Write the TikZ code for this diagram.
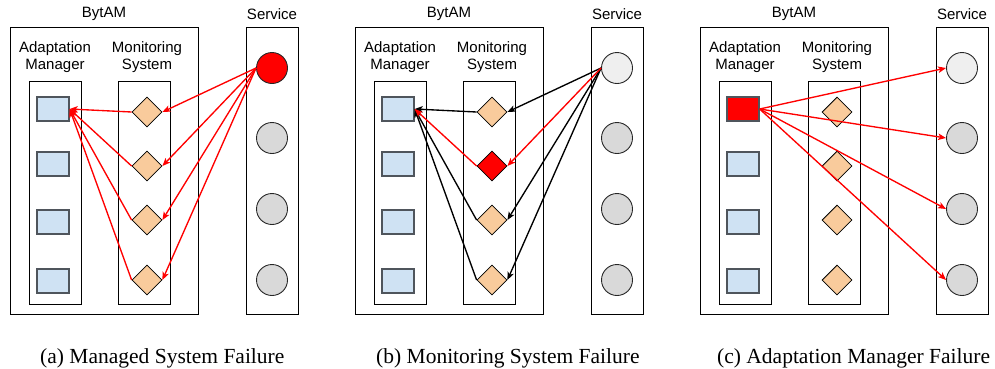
\documentclass[tikz,border=0pt]{standalone}
\usepackage{fontspec}
\setmainfont{Liberation Serif}
\setsansfont{Liberation Sans}
\usetikzlibrary{shapes.geometric,arrows.meta}
\definecolor{sqfill}{HTML}{CFE2F3}
\definecolor{sqdraw}{HTML}{4F555C}
\definecolor{dfill}{HTML}{F9CB9C}
\definecolor{cfill}{HTML}{D9D9D9}
\definecolor{cfilltop}{HTML}{EFEFEF}
\definecolor{redA}{HTML}{FF0000}
\tikzset{
  frame/.style={draw=black, line width=0.8pt},
  lbl/.style={font=\sffamily\fontsize{15}{17}\selectfont, align=center, inner sep=0pt},
  sqbox/.style={draw=sqdraw, line width=1.3pt, minimum width=32pt, minimum height=24pt, inner sep=0pt},
  dia/.style={diamond, draw=black, line width=0.8pt, minimum width=30pt, minimum height=30pt, inner sep=0pt, aspect=1},
  svc/.style={circle, draw=black!85, line width=0.9pt, minimum size=31pt, inner sep=0pt},
  arr/.style={-{Stealth[length=8pt,width=6.5pt,inset=2pt]}, line width=1.35pt},
  captext/.style={font=\fontsize{21.5}{24}\selectfont, inner sep=0pt, anchor=base west}
}
% #1 prefix, #2 offset, #3 fill of service 1, #4 fill of diamond 2, #5 fill of square 1
\newcommand\drawpanel[5]{%
  \begin{scope}[xshift=#2pt]
    \draw[frame] (10,27) rectangle (198,314);
    \draw[frame] (246,27) rectangle (298,314);
    \draw[frame] (29,81) rectangle (81,304);
    \draw[frame] (118,81) rectangle (170,304);
    \node[lbl] (#1byt) at (104,14) {BytAM};
    \node[lbl] (#1svc) at (272,14) {Service};
    \node[lbl] (#1am) at (55,57.5) {Adaptation\\Manager};
    \node[lbl] (#1ms) at (147,57.5) {Monitoring\\System};
    \foreach \i/\ys/\yd/\yc in {1/109/112/68, 2/164/166/138, 3/222/220/209, 4/281/280/280} {
      \ifnum\i=1 \def\sqf{#5}\def\cf{#3}\else\def\sqf{sqfill}\def\cf{cfill}\fi
      \ifnum\i=2 \def\df{#4}\else\def\df{dfill}\fi
      \node[sqbox, fill=\sqf] (#1s\i) at (53,\ys) {};
      \node[dia, fill=\df] (#1d\i) at (147,\yd) {};
      \node[svc, fill=\cf] (#1c\i) at (272,\yc) {};
    }
  \end{scope}}
\begin{document}
\begin{tikzpicture}[x=1pt,y=-1pt]
  \useasboundingbox (0,0) rectangle (995,368);
  \drawpanel{a}{0}{redA}{dfill}{sqfill}
  \drawpanel{b}{345}{cfilltop}{redA}{sqfill}
  \drawpanel{c}{690}{cfilltop}{dfill}{redA}
  % panel a
  \foreach \i in {1,...,4} {
    \draw[arr, redA] (ac1.west) -- (ad\i.east);
    \draw[arr, redA] (ad\i.west) -- (as1.east);
  }
  % panel b
  \foreach \i in {1,3,4} {
    \draw[arr, black] (bc1.west) -- (bd\i.east);
    \draw[arr, black] (bd\i.west) -- (bs1.east);
  }
  \draw[arr, redA] (bc1.west) -- (bd2.east);
  \draw[arr, redA] (bd2.west) -- (bs1.east);
  % panel c
  \foreach \i in {1,...,4} {
    \draw[arr, redA] (cs1.east) -- (cc\i.west);
  }
  % captions
  \node[captext] (capa) at (40,363) {(a) Managed System Failure};
  \node[captext] (capb) at (376,363) {(b) Monitoring System Failure};
  \node[captext] (capc) at (717,363) {(c) Adaptation Manager Failure};
\end{tikzpicture}
\end{document}
